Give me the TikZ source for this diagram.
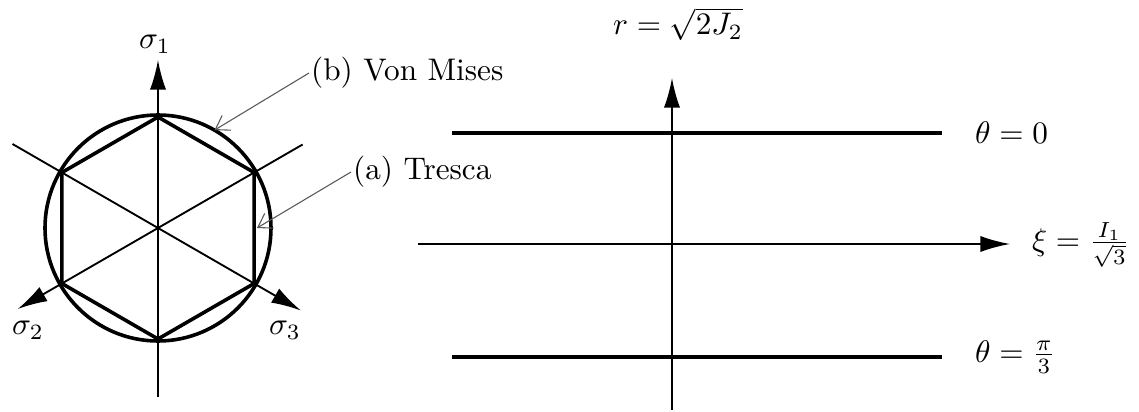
\documentclass[tikz,border=0pt]{standalone}
\usepackage{tikz}
\usetikzlibrary{arrows.meta,positioning,calc}
\definecolor{leader}{RGB}{90,90,90}

\begin{document}
\begin{tikzpicture}[
    x=0.32pt,y=-0.32pt,
    axis/.style={line width=0.6pt,-{Latex[length=9.5pt,width=5.2pt]}},
    bold/.style={line width=1.15pt},
    pointer/.style={draw=leader,line width=0.35pt,-{Straight Barb[length=4.2pt,width=5.5pt]}},
    lab/.style={inner sep=0.5pt}
]
\useasboundingbox (0,0) rectangle (1139,412);
% deviatoric plane
\coordinate (O) at (158,228);
\draw[bold] (O) circle[radius=113];
\draw[bold] ($(O)+(90:111)$) -- ($(O)+(30:111)$) -- ($(O)+(-30:111)$) -- ($(O)+(-90:111)$)
    -- ($(O)+(-150:111)$) -- ($(O)+(150:111)$) -- cycle;
\coordinate (s1) at ($(O)+(-90:168)$);
\coordinate (s2) at ($(O)+(150:162)$);
\coordinate (s3) at ($(O)+(30:165)$);
\draw[axis] ($(O)+(90:169)$) -- (s1);
\draw[axis] ($(O)+(-30:167)$) -- (s2);
\draw[axis] ($(O)+(-150:168)$) -- (s3);
\node[lab] (s1lab) at (155,44) {$\sigma_1$};
\node[lab] (s2lab) at (28,330) {$\sigma_2$};
\node[lab] (s3lab) at (285,330) {$\sigma_3$};
% criteria
\node[lab,anchor=west] (vm) at (309,73) {(b) Von Mises};
\node[lab,anchor=west] (tr) at (351,172) {(a) Tresca};
\coordinate (vmpt) at ($(O)+(-60:113)$);
\coordinate (trpt) at (257,228);
\draw[pointer] (vm.west) -- (vmpt);
\draw[pointer] (tr.west) -- (trpt);
% meridian plane
\coordinate (rbot) at (672,410);
\coordinate (rtop) at (672,78);
\coordinate (xil) at (418,244);
\coordinate (xir) at (1010,244);
\draw[axis] (rbot) -- (rtop);
\draw[axis] (xil) -- (xir);
\node[lab] (rlab) at (678,24) {$r=\sqrt{2J_2}$};
\node[lab,anchor=west] (xilab) at (1030,245) {$\xi=\frac{I_1}{\sqrt{3}}$};
\draw[bold] (452,133) -- (942,133) coordinate (t0);
\draw[bold] (452,357) -- (942,357) coordinate (t3);
\node[lab,anchor=west] (t0lab) at (973,133) {$\theta=0$};
\node[lab,anchor=west] (t3lab) at (973,357) {$\theta=\frac{\pi}{3}$};
\end{tikzpicture}
\end{document}
